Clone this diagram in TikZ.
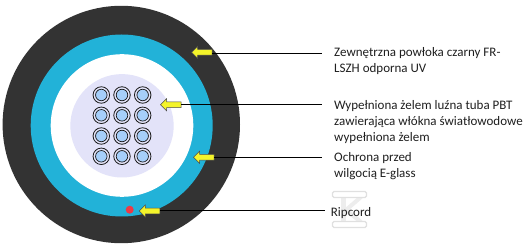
\documentclass[tikz,border=0pt]{standalone}
\usepackage{fontspec}
\setmainfont{Carlito}
\usetikzlibrary{shapes.arrows}
\definecolor{jacket}{HTML}{333333}
\definecolor{moisture}{HTML}{22B2D8}
\definecolor{gelfill}{HTML}{E3E3F9}
\definecolor{fibre}{HTML}{A6CFFA}
\definecolor{ripred}{HTML}{EE3A45}
\definecolor{pointer}{HTML}{F4F42A}
\tikzset{
  fibretube/.style={circle,draw=black!90,line width=0.8pt,fill=gelfill,minimum size=16.5pt,inner sep=0pt},
  fibrecore/.style={circle,draw=black!90,line width=0.7pt,fill=fibre,minimum size=11.5pt,inner sep=0pt},
  yellowarrow/.style={single arrow,shape border rotate=180,draw=black!70,line width=0.5pt,fill=pointer,
    minimum height=20.5pt,minimum width=12pt,single arrow head extend=3.2pt,single arrow tip angle=90,
    inner xsep=0pt,inner ysep=2.6pt},
  leader/.style={draw=black,line width=1pt},
  caption/.style={anchor=north west,align=left,inner sep=0pt,font=\fontsize{13pt}{16pt}\selectfont,text=black!88},
  markbar/.style={draw=black!12,line width=1.4pt,fill=white,rounded corners=1.5pt},
}
\begin{document}
\begin{tikzpicture}[x=1pt,y=-1pt]
  \useasboundingbox (0,0) rectangle (528,248);
  \fill[white] (0,0) rectangle (528,248);
  % cable cross-section, outside to inside
  \fill[jacket] (121.3,124.5) circle[radius=118.7];
  \fill[moisture] (121.7,125.5) circle[radius=91];
  \fill[white] (122,125.5) circle[radius=71.3];
  \fill[gelfill] (122,125.8) circle[radius=51.7];
  % twelve fibres in the loose tube
  \foreach \cx in {101.3,122,142.7}
    \foreach \cy in {95,115.3,136,156.3} {
      \node[fibretube] at (\cx,\cy) {};
      \node[fibrecore] at (\cx,\cy) {};
    }
  % ripcord
  \fill[ripred] (129.7,209.7) circle[radius=4];
  % small logo mark behind the ripcord label
  \draw[draw=black!7,line width=5pt] (343,197) -- (343,222);
  \draw[draw=black!7,line width=4pt] (361,197) -- (346,210) -- (361,222);
  \draw[markbar] (332.5,191.5) rectangle (366.5,197.5);
  \draw[markbar] (332.5,221.5) rectangle (366.5,227.5);
  % pointers
  \node[yellowarrow] (a1) at (203.3,52.3) {};
  \node[yellowarrow] (a2) at (172.2,104.7) {};
  \node[yellowarrow] (a3) at (205.2,157.2) {};
  \node[yellowarrow] (a4) at (151,211) {};
  % leader end points
  \coordinate (e1) at (321.7,53.3);
  \coordinate (e2) at (321.7,104.7);
  \coordinate (e3) at (321.7,157.2);
  \coordinate (e4) at (325,211);
  \draw[leader] (a1.tail |- e1) -- (e1);
  \draw[leader] (a2.tail) -- (e2);
  \draw[leader] (a3.tail) -- (e3);
  \draw[leader] (a4.tail) -- (e4);
  % labels
  \node[caption] (t1) at (334,47) {Zewnętrzna powłoka czarny FR-\\LSZH odporna UV};
  \node[caption] (t2) at (334,100) {Wypełniona żelem luźna tuba PBT\\zawierająca włókna światłowodowe\\wypełniona żelem};
  \node[caption] (t3) at (334,152) {Ochrona przed\\wilgocią E-glass};
  \node[caption] (t4) at (330.7,207) {Ripcord};
\end{tikzpicture}
\end{document}
